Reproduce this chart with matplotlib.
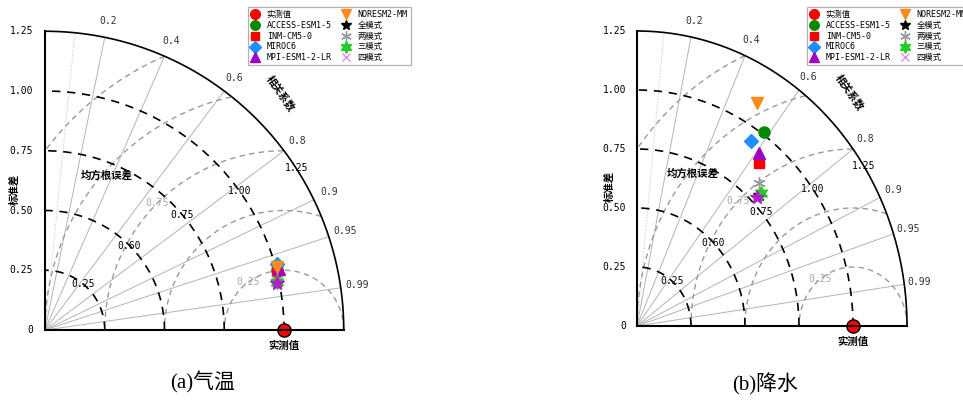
import numpy as np
import matplotlib.pyplot as plt
from matplotlib.lines import Line2D

plt.rcParams['font.family'] = ['DejaVu Sans Mono', 'Noto Sans CJK SC']

W, H = 963, 401

models = ['ACCESS-ESM1-5', 'INM-CM5-0', 'MIROC6', 'MPI-ESM1-2-LR', 'NORESM2-MM',
          '全模式', '两模式', '三模式', '四模式']

# normalised standard deviation and correlation
temp_std = [1.002, 1.000, 1.007, 1.012, 1.005, 0.990, 0.992, 0.992, 0.989]
temp_cor = [0.968, 0.969, 0.962, 0.968, 0.965, 0.979, 0.977, 0.979, 0.980]
prec_std = [1.011, 0.891, 0.946, 0.925, 1.096, 0.792, 0.828, 0.805, 0.781]
prec_cor = [0.582, 0.634, 0.558, 0.612, 0.505, 0.713, 0.680, 0.712, 0.713]

obs_std = 1.0
std_ticks = [0, 0.25, 0.5, 0.75, 1.0, 1.25]
std_arcs = [0.25, 0.5, 0.75, 1.0]
std_arc_labels = ['0.25', '0.60', '0.75', '1.00', '1.25']
std_label_r = [0.25, 0.5, 0.75, 1.0, 1.25]
std_label_ang = [50, 45, 40, 35.6, 32.8]
rms_arcs = [0.25, 0.5, 0.75, 1.0, 1.25]
cor_lines = [0.2, 0.4, 0.6, 0.8, 0.9, 0.95, 0.99]
cor_labels = [0.2, 0.4, 0.6, 0.8, 0.9, 0.95, 0.99]

markers = ['o', 's', 'D', '^', 'v', '*', (6, 2, 0), (6, 1, 0), '*']
colors = ['#008a00', '#ff0000', '#1e8fff', '#a000c0', '#ff8c1a', 'k', '#9a9a9a', '#22cc22', '#b020c8']
sizes = [8, 7, 7, 8, 8, 9, 9, 10, 10]

RMAX = 1.25
fig = plt.figure(figsize=(W / 100, H / 100), dpi=100)


def make_ax(ox, oy, sx, sy):
    x0, x1, y0, y1 = -0.25, 1.6, -0.35, 1.45
    left = ox + x0 * sx
    right = ox + x1 * sx
    top = oy - y1 * sy
    bottom = oy - y0 * sy
    ax = fig.add_axes([left / W, 1 - bottom / H, (right - left) / W, (bottom - top) / H])
    ax.set_xlim(x0, x1)
    ax.set_ylim(y0, y1)
    ax.axis('off')
    return ax


def taylor(ax, stds, cors):
    t = np.linspace(0, np.pi / 2, 300)
    # correlation rays
    a = np.arccos(0.1)
    ax.plot([0, RMAX * np.cos(a)], [0, RMAX * np.sin(a)], color='#c0c0c0', lw=0.7, ls=':', zorder=1)
    for c in cor_lines:
        a = np.arccos(c)
        ax.plot([0, RMAX * np.cos(a)], [0, RMAX * np.sin(a)], color='#b4b4b4', lw=0.7, zorder=1)
    for c in cor_labels:
        a = np.arccos(c)
        ax.text(1.32 * np.cos(a), 1.32 * np.sin(a), str(c), fontsize=7, color='#333333',
                ha='center', va='center')
    # rms arcs around the observation
    tt = np.linspace(0, np.pi, 600)
    for r in rms_arcs:
        x = obs_std + r * np.cos(tt)
        y = r * np.sin(tt)
        ok = (x >= 0) & (np.hypot(x, y) <= RMAX)
        x = np.where(ok, x, np.nan)
        ax.plot(x, y, color='#9a9a9a', lw=1.0, dashes=(4, 3), zorder=2)
    # std arcs
    for r in std_arcs:
        ax.plot(r * np.cos(t), r * np.sin(t), color='k', lw=1.2, dashes=(5, 4), zorder=2)
    for lab, r, a in zip(std_arc_labels, std_label_r, std_label_ang):
        a = np.radians(a)
        ax.text(r * np.cos(a), r * np.sin(a), lab, fontsize=7, color='k', ha='center', va='center', zorder=3)
    ax.text(0.849, 0.201, '0.25', fontsize=7, color='#aaaaaa', ha='center', va='center', zorder=3)
    ax.text(0.469, 0.531, '0.75', fontsize=7, color='#aaaaaa', ha='center', va='center', zorder=3)
    # frame
    ax.plot(RMAX * np.cos(t), RMAX * np.sin(t), color='k', lw=1.2, zorder=4)
    ax.plot([0, 0], [0, RMAX], color='k', lw=1.5, zorder=6)
    ax.plot([0, RMAX], [0, 0], color='k', lw=1.5, zorder=6)
    for s in std_ticks:
        ax.text(-0.05, s, '0' if s == 0 else '%.2f' % s, fontsize=7, ha='right', va='center')
    ax.text(-0.125, 0.59, '标准差', rotation=90, fontsize=7.5, fontweight='bold',
            family=['Noto Sans CJK SC'], ha='center', va='center')
    ax.text(0.985, 0.99, '相关系数', rotation=-55, fontsize=7.5, fontweight='bold',
            family=['Noto Sans CJK SC'], ha='center', va='center')
    ax.text(0.257, 0.647, '均方根误差', fontsize=7.5, fontweight='bold',
            family=['Noto Sans CJK SC'], ha='center', va='center')
    ax.text(obs_std, -0.065, '实测值', fontsize=7.5, fontweight='bold',
            family=['Noto Sans CJK SC'], ha='center', va='center')
    # points
    ax.plot(obs_std, 0, 'o', ms=9.5, mfc='#ff0000', mec='k', mew=1.0, zorder=5)
    for s, c, m, col, ms in zip(stds, cors, markers, colors, sizes):
        a = np.arccos(c)
        ax.plot(s * np.cos(a), s * np.sin(a), marker=m, color=col, ms=ms, ls='none', mew=1, zorder=7)


def legend(x, y):
    hs = [Line2D([], [], marker='o', color='#ff0000', ls='none', ms=7)]
    for m, col, ms in zip(markers[:8], colors[:8], sizes[:8]):
        hs.append(Line2D([], [], marker=m, color=col, ls='none', ms=ms * 0.85))
    hs.append(Line2D([], [], marker='x', color='#e090e8', ls='none', ms=5.5))
    leg = fig.legend(hs, ['实测值'] + models, loc='upper left', bbox_to_anchor=(x / W, 1 - y / H),
                     ncol=2, fontsize=6, frameon=True, fancybox=False, edgecolor='#a0a0a0',
                     borderpad=0.35, labelspacing=0.22, handlelength=1.0, handletextpad=0.9,
                     columnspacing=1.2, borderaxespad=0)
    leg.get_frame().set_linewidth(0.9)


ax1 = make_ax(45, 330, 239, 239)
taylor(ax1, temp_std, temp_cor)
ax2 = make_ax(637, 326, 216, 236)
taylor(ax2, prec_std, prec_cor)

legend(248, 7)
legend(807, 7)

fig.text(203 / W, 1 - 382 / H, '(a)气温', fontsize=15, family=['Liberation Serif', 'Noto Sans CJK SC'],
         ha='center', va='center')
fig.text(765 / W, 1 - 384 / H, '(b)降水', fontsize=15, family=['Liberation Serif', 'Noto Sans CJK SC'],
         ha='center', va='center')

fig.savefig('out.png', dpi=100)
